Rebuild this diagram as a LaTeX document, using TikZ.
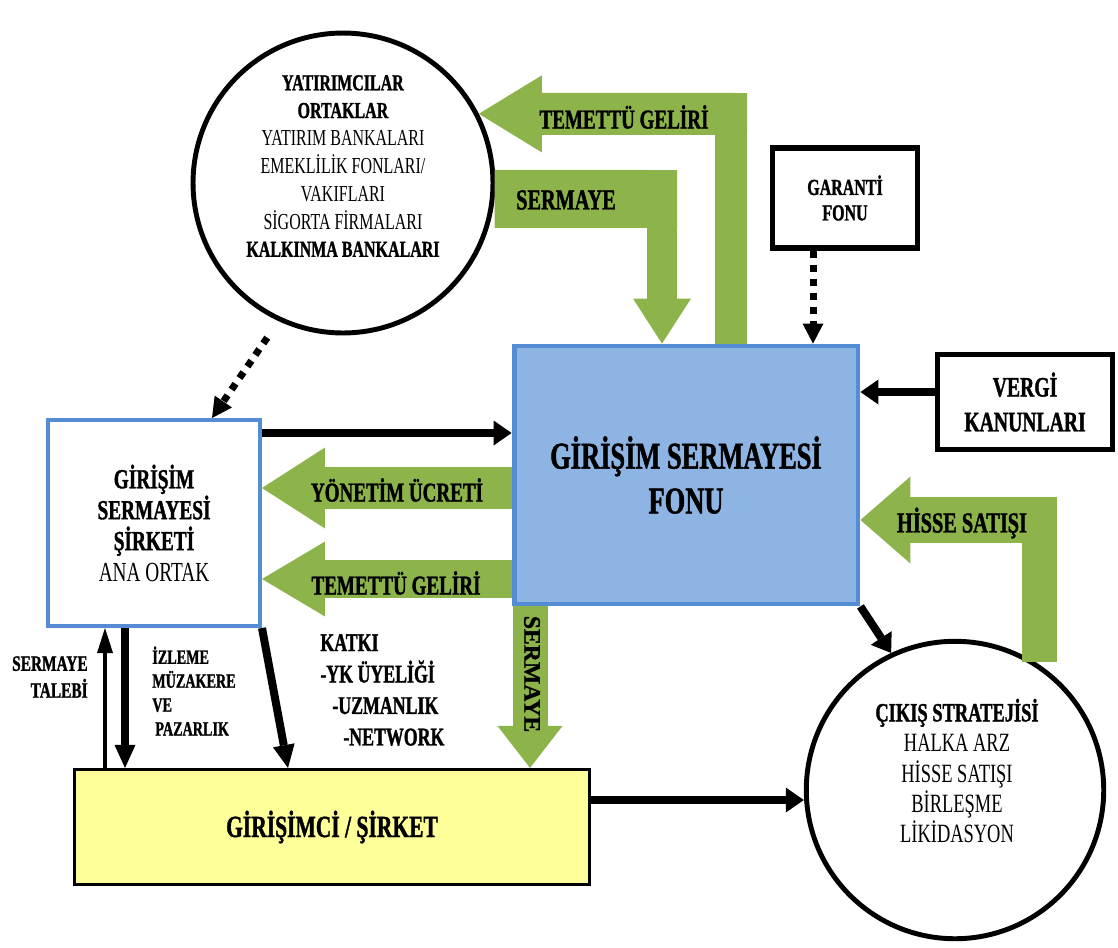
\documentclass[tikz,border=0pt]{standalone}
\usepackage{fontspec}
\setmainfont{Liberation Serif}[FakeStretch=0.7, BoldFeatures={FakeBold=1.2}]
\newfontfamily\uprightfont{Liberation Serif}[BoldFeatures={FakeBold=1.2}]
\usepackage{tikz}
\usetikzlibrary{calc}
\usetikzlibrary{arrows.meta, positioning, shapes}
\definecolor{arrowgreen}{RGB}{141,180,74}
\definecolor{fundfill}{RGB}{141,180,226}
\definecolor{fundedge}{RGB}{84,141,212}
\definecolor{entfill}{RGB}{255,255,153}
\newcommand{\fsz}[2]{\fontsize{#1}{#2}\selectfont}

\begin{document}
\begin{tikzpicture}[x=0.02cm, y=-0.02cm]
	
	% Define block styles
	\tikzstyle{circ} = [circle, draw, line width=2.8pt, fill=white, inner sep=0pt]
	\tikzstyle{fundbox} = [rectangle, draw=fundedge, fill=fundfill, line width=2.8pt, 
	minimum width=6.88cm, minimum height=5.16cm, align=center, font=\fsz{21.5}{25.5}\bfseries]
	\tikzstyle{gssbox} = [rectangle, draw=fundedge, fill=white, line width=2.3pt, 
	minimum width=4.24cm, minimum height=4.12cm, align=center, font=\fsz{15.7}{17.6}]
	\tikzstyle{blackbox} = [rectangle, draw, line width=3pt, fill=white, align=center]
	\tikzstyle{entbox} = [rectangle, draw, line width=1.8pt, fill=entfill, 
	minimum width=10.3cm, minimum height=2.3cm, font=\fsz{17.5}{20}\bfseries]
	\tikzstyle{glabel} = [font=\fsz{15.5}{18}\bfseries, inner sep=0pt]
	\tikzstyle{note} = [align=left, inner sep=0pt]
	\tikzstyle{gline} = [draw=arrowgreen, line cap=butt]
	\tikzstyle{line} = [draw, line width=0.16cm, -{Triangle[length=0.36cm, width=0.5cm, line width=0pt]}]
	\tikzstyle{dotline} = [draw, line width=0.14cm, dash pattern=on 0.14cm off 0.14cm, 
	-{Triangle[length=0.4cm, width=0.42cm, line width=0pt]}]
	
	% Frame
	\path [fill=white, use as bounding box] (0,0) rectangle (1118,947);
	
	% Nodes
	\node [circ, minimum size=6cm] (inv) at (343,183) {};
	\node [align=center, font=\fsz{13}{15.8}] (invtxt) at (343,166) {\textbf{YATIRIMCILAR}\\\textbf{ORTAKLAR}\\YATIRIM BANKALARI\\EMEKLİLİK FONLARI/\\VAKIFLARI\\SİGORTA FİRMALARI\\\textbf{KALKINMA BANKALARI}};
	\node [fundbox] (fund) at (686,475) {GİRİŞİM SERMAYESİ\\FONU};
	\node [gssbox] (gss) at (154,523) {\textbf{GİRİŞİM}\\\textbf{SERMAYESİ}\\\textbf{ŞİRKETİ}\\ANA ORTAK};
	\node [entbox] (ent) at (332,827) {GİRİŞİMCİ / ŞİRKET};
	\node [blackbox, minimum width=2.9cm, minimum height=2cm, font=\fsz{13}{14.5}\bfseries] (gar) at (845,198) {GARANTİ\\FONU};
	\node [blackbox, minimum width=3.5cm, minimum height=1.9cm, font=\fsz{16}{19.8}\bfseries] (vergi) at (1025,402) {VERGİ\\KANUNLARI};
	\node [circ, minimum size=5.95cm] (exit) at (955,790) {};
	\node [align=center, font=\fsz{15}{17.3}] (exittxt) at (957,771) {\textbf{ÇIKIŞ STRATEJİSİ}\\HALKA ARZ\\HİSSE SATIŞI\\BİRLEŞME\\LİKİDASYON};
	
	% Corners and rails
	\coordinate (temC) at (731,114);
	\coordinate (serC) at (662,199);
	\coordinate (yonY) at (0,488);
	\coordinate (temY) at (0,579);
	\coordinate (sdX) at (530,0);
	\coordinate (hisC) at (1039,520);
	\coordinate (topY) at (0,433);
	\coordinate (vgY) at (0,392);
	\coordinate (garX) at (813,0);
	\coordinate (dgX) at (212,0);
	\coordinate (upX) at (105,0);
	\coordinate (dnX) at (125,0);
	\coordinate (dgE) at (288,0);
	\coordinate (exY) at (0,800);
	
	% Green paths
	\path [gline, line width=0.64cm] (temC |- fund.north) -- ($(temC)+(0,-21)$);
	\path [gline, line width=0.84cm, -{Triangle[length=1.26cm, width=1.54cm, line width=0pt]}] ($(temC)+(16,0)$) -- (inv.27);
	\path [gline, line width=1.16cm] (inv.-6) -- ($(serC)+(15,0)$);
	\path [gline, line width=0.6cm, -{Triangle[length=0.9cm, width=1.16cm, line width=0pt]}] ($(serC)+(0,-29)$) -- (serC |- fund.north);
	\path [gline, line width=0.84cm, -{Triangle[length=1.26cm, width=1.62cm, line width=0pt]}] (fund.west |- yonY) -- (gss.east |- yonY);
	\path [gline, line width=0.76cm, -{Triangle[length=1.26cm, width=1.5cm, line width=0pt]}] (fund.west |- temY) -- (gss.east |- temY);
	\path [gline, line width=0.7cm, -{Triangle[length=0.84cm, width=1.3cm, line width=0pt]}] (sdX |- fund.south) -- (sdX |- ent.north);
	\path [gline, line width=0.7cm] (hisC |- exit.58) -- ($(hisC)+(0,-23)$);
	\path [gline, line width=0.92cm, -{Triangle[length=1cm, width=1.74cm, line width=0pt]}] ($(hisC)+(18,0)$) -- (fund.east |- hisC);
	
	% Black paths
	\path [line] (gss.east |- topY) -- (fund.west |- topY);
	\path [line] (vergi.west |- vgY) -- (fund.east |- vgY);
	\path [dotline] (garX |- gar.south) -- (garX |- fund.north);
	\path [dotline, shorten <=0.4cm] (inv.245) -- (dgX |- gss.north);
	\path [draw, line width=0.08cm, -{Triangle[length=0.5cm, width=0.32cm, line width=0pt]}] (upX |- ent.north) -- (upX |- gss.south);
	\path [line, line width=0.15cm, -{Triangle[length=0.46cm, width=0.42cm, line width=0pt]}] (dnX |- gss.south) -- (dnX |- ent.north);
	\path [line, -{Triangle[length=0.46cm, width=0.44cm, line width=0pt]}] (gss.south east) -- (dgE |- ent.north);
	\path [line] (fund.south east) -- (exit.115);
	\path [line] (ent.east |- exY) -- (exit.west |- exY);
	
	% Labels
	\node [glabel] (lbtem) at (624,117) {TEMETTÜ GELİRİ};
	\node [glabel, font=\fsz{16.5}{18}\bfseries] (lbser) at (566,200) {SERMAYE};
	\node [glabel] (lbyon) at (397,490) {YÖNETİM ÜCRETİ};
	\node [glabel] (lbtem2) at (396,583) {TEMETTÜ GELİRİ};
	\node [glabel, font=\fsz{16.5}{18}\bfseries] (lbhis) at (962,523) {HİSSE SATIŞI};
	\node [glabel, rotate=-90, font=\uprightfont\fsz{13.5}{16}\bfseries] (lbdown) at (532,674) {SERMAYE};
	\node [note, align=right, anchor=east, font=\fsz{12.5}{15.3}\bfseries] (lbtalep) at (88,677) {SERMAYE\\TALEBİ};
	\node [note, anchor=west, font=\fsz{11.5}{13.6}\bfseries] (lbizl) at (152,691) {İZLEME\\MÜZAKERE\\VE\\\hspace*{0.06cm}PAZARLIK};
	\node [note, anchor=west, font=\fsz{14.5}{17.9}\bfseries] (lbkat) at (320,690) {KATKI\\-YK ÜYELİĞİ\\\hspace*{0.24cm}-UZMANLIK\\\hspace*{0.46cm}-NETWORK};
\end{tikzpicture}
\end{document}
